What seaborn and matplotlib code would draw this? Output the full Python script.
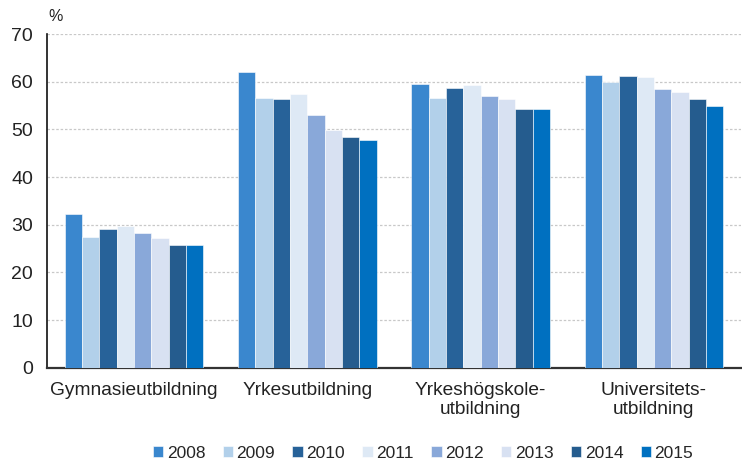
import matplotlib
matplotlib.use("Agg")
import matplotlib.pyplot as plt
import pandas as pd
import seaborn as sns

# Values (%)
categories = ["Gymnasieutbildning", "Yrkesutbildning", "Yrkeshögskole-\nutbildning", "Universitets-\nutbildning"]
years = ["2008", "2009", "2010", "2011", "2012", "2013", "2014", "2015"]
gymnasie = [32.3, 27.5, 29.1, 29.8, 28.2, 27.2, 25.8, 25.8]
yrkes = [62.1, 56.7, 56.3, 57.4, 53.0, 49.9, 48.4, 47.7]
yrkeshogskole = [59.5, 56.7, 58.8, 59.4, 57.1, 56.4, 54.4, 54.4]
universitet = [61.4, 59.9, 61.2, 61.1, 58.4, 57.8, 56.4, 55.0]
colors = ["#3A87CE", "#B2D0EA", "#276299", "#DEE9F5", "#89A8D9", "#D8E1F2", "#255C8E", "#0070C0"]

rows = []
for cat, vals in zip(categories, [gymnasie, yrkes, yrkeshogskole, universitet]):
    for yr, v in zip(years, vals):
        rows.append({"category": cat, "year": yr, "value": v})
df = pd.DataFrame(rows)

sns.set_theme(style="white")
plt.rcParams["font.family"] = ["Liberation Sans", "DejaVu Sans"]

fig, ax = plt.subplots(figsize=(7.42, 4.62), dpi=100)
sns.barplot(data=df, x="category", y="value", hue="year", order=categories,
            hue_order=years, palette=colors, saturation=1, width=0.8,
            edgecolor="white", linewidth=0.4, ax=ax, zorder=3)

ax.set_ylim(0, 70)
ax.set_yticks(range(0, 71, 10))
ax.set_xlim(-0.5, 3.5)
ax.yaxis.grid(True, linestyle=(0, (2, 1.5)), color="#C8C8C8", linewidth=0.9, zorder=0)
ax.set_axisbelow(True)
ax.set_xlabel("")
ax.set_ylabel("")
ax.tick_params(axis="both", length=0, labelsize=14, colors="#222222")
ax.tick_params(axis="y", pad=10.5)
ax.tick_params(axis="x", labelsize=13.8, pad=10)
for s in ["top", "right"]:
    ax.spines[s].set_visible(False)
ax.spines["left"].set_color("#111111")
ax.spines["left"].set_linewidth(1.2)
ax.spines["bottom"].set_color("#333333")
ax.spines["bottom"].set_linewidth(1.6)

ax.text(0.002, 1.03, "%", transform=ax.transAxes, fontsize=11.5, color="#222222",
        ha="left", va="bottom")

handles, labels = ax.get_legend_handles_labels()
ax.legend(handles, labels, loc="lower center", bbox_to_anchor=(0.542, -0.325),
          ncol=8, frameon=False, fontsize=12.5, handlelength=0.6, handleheight=0.6,
          handletextpad=0.2, columnspacing=1.0)

fig.subplots_adjust(left=0.064, right=0.998, top=0.926, bottom=0.204)
fig.savefig("out.png", dpi=100)
